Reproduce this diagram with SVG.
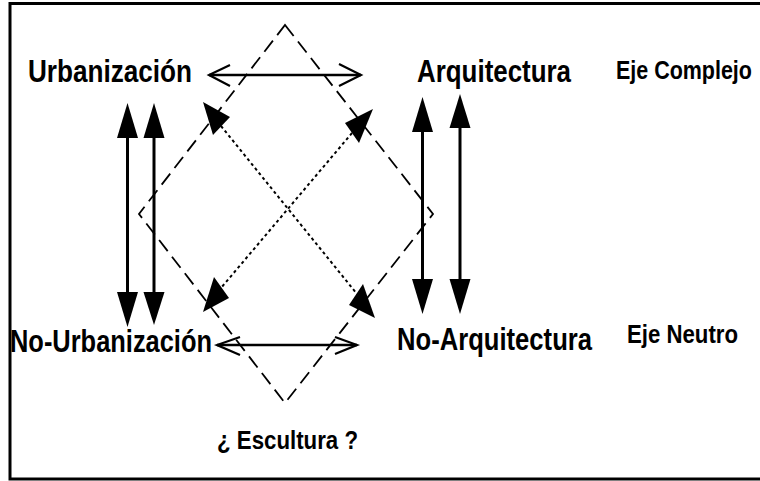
<svg xmlns="http://www.w3.org/2000/svg" width="760" height="481" viewBox="0 0 760 481">
<style>
.lbl{font-family:"Liberation Sans Narrow","Liberation Sans",Arial,sans-serif;font-weight:bold;fill:#000}
.big{font-size:31px}
.small{font-size:26.5px}
.dash{fill:none;stroke:#000;stroke-width:1.8;stroke-dasharray:14 7}
.dot{fill:none;stroke:#000;stroke-width:2;stroke-dasharray:3 3}
.vert{stroke:#000;stroke-width:3;fill:none}
.horiz{stroke:#000;stroke-width:2.6;fill:none}
.open{stroke:#000;stroke-width:2.2;fill:none}
.head{fill:#000;stroke:none}
</style>
<rect x="10" y="3.5" width="760" height="475.5" fill="#fff" stroke="#000" stroke-width="3"/>

<g id="diamond">
<polygon class="dash" points="285,25 433,214 285,403 139,214"/>
</g>

<g id="connectors">
<line class="horiz" x1="209" y1="75" x2="361" y2="75"/>
<polyline class="open" points="230,65 209,75 230,86"/>
<polyline class="open" points="339,64 361,75 339,86"/>
<line class="horiz" x1="217" y1="345" x2="357" y2="345"/>
<polyline class="open" points="240,337 217,345 240,355"/>
<polyline class="open" points="335,337 357,345 335,354"/>

<line class="vert" x1="127.5" y1="135" x2="127.5" y2="295"/>
<polygon class="head" points="127.5,103 138,138 117,138"/>
<polygon class="head" points="127.5,327 138,292 117,292"/>
<line class="vert" x1="154" y1="135" x2="154" y2="295"/>
<polygon class="head" points="154,103 164.5,138 143.5,138"/>
<polygon class="head" points="154,325 164.5,292 143.5,292"/>

<line class="vert" x1="422.5" y1="128" x2="422.5" y2="282"/>
<polygon class="head" points="422.5,97 433,132 412,132"/>
<polygon class="head" points="422.5,314 433,279 412,279"/>
<line class="vert" x1="460" y1="124" x2="460" y2="282"/>
<polygon class="head" points="460,94 470.5,128 449.5,128"/>
<polygon class="head" points="460,314 470.5,279 449.5,279"/>

<line class="dot" x1="221" y1="126" x2="357" y2="294"/>
<polygon class="head" points="203,102 230,117 213,135"/>
<polygon class="head" points="375,318 363,284 349,305"/>
<line class="dot" x1="352" y1="133" x2="221" y2="288"/>
<polygon class="head" points="373,109 345,123 359,143"/>
<polygon class="head" points="203,312 214,277 229,298"/>
</g>

<g id="urbanizacion"><text class="lbl big" x="28" y="82" textLength="164" lengthAdjust="spacingAndGlyphs">Urbanización</text></g>
<g id="arquitectura"><text class="lbl big" x="417" y="82" textLength="154" lengthAdjust="spacingAndGlyphs">Arquitectura</text></g>
<g id="eje-complejo"><text class="lbl small" transform="translate(616,79) scale(0.81,1)" x="0" y="0">Eje Complejo</text></g>
<g id="no-urbanizacion"><text class="lbl big" x="10" y="352" textLength="202" lengthAdjust="spacingAndGlyphs">No-Urbanización</text></g>
<g id="no-arquitectura"><text class="lbl big" x="397" y="350" textLength="195" lengthAdjust="spacingAndGlyphs">No-Arquitectura</text></g>
<g id="eje-neutro"><text class="lbl small" x="627" y="343" textLength="111" lengthAdjust="spacingAndGlyphs">Eje Neutro</text></g>
<g id="escultura"><text class="lbl small" x="217" y="449" textLength="141" lengthAdjust="spacingAndGlyphs">¿ Escultura ?</text></g>
</svg>
